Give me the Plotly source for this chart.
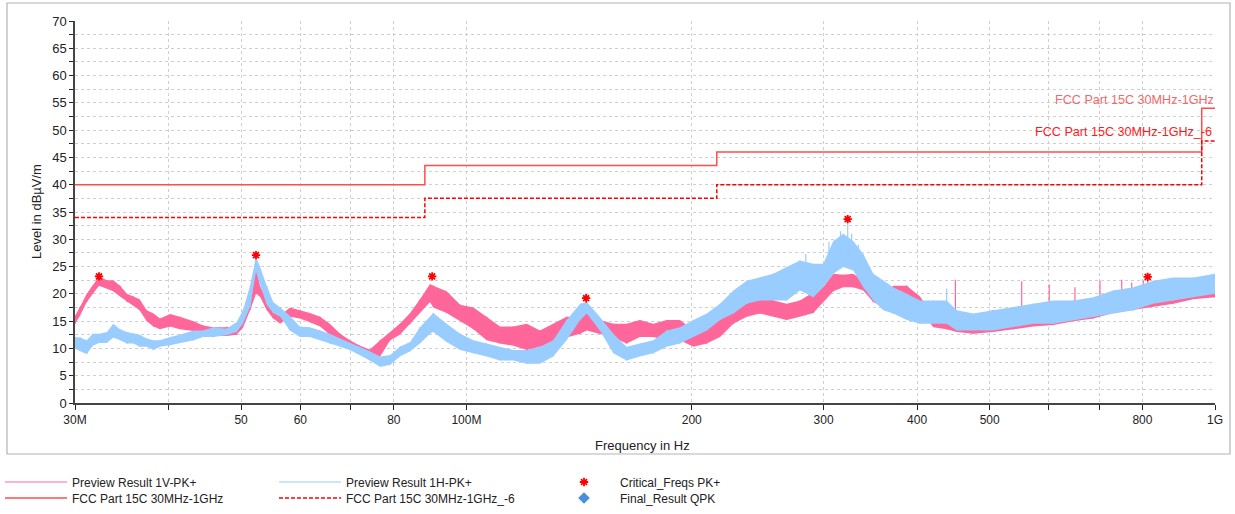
import plotly.graph_objects as go

# ---------------- data (frequencies in MHz, levels in dBµV/m) ----------------
freq_mhz = [30.0, 30.47, 31.1, 31.7, 32.3, 33.1, 33.75, 34.45, 35.2, 35.9, 36.6, 37.4, 38.2, 38.96,
            40.2, 41.4, 43.2, 44.5, 45.9, 47.8, 49.3, 50.3, 51.4, 52.35, 53.0, 54.1, 55.2, 56.4,
            58.1, 59.9, 61.8, 63.75, 65.7, 67.8, 69.9, 72.1, 74.3, 76.7, 79.1, 81.5, 84.1, 86.7,
            89.4, 90.3, 94.1, 98.1, 102.2, 106.4, 110.9, 115.5, 120.4, 125.4, 130.6, 136.1, 141.9,
            144.8, 150.8, 157.1, 163.7, 170.5, 177.7, 185.2, 192.9, 201.0, 209.5, 218.2, 227.3,
            236.9, 246.7, 257.0, 267.8, 279.0, 290.7, 299.7, 309.1, 318.8, 328.7, 338.9, 349.6,
            360.4, 371.7, 387.4, 403.6, 420.5, 438.1, 451.8, 475.5, 505.6, 537.8, 571.8, 608.1,
            646.8, 687.9, 731.4, 777.9, 827.1, 879.6, 935.4, 1000.0]

v_low = [14.5, 16.0, 18.5, 20.0, 21.5, 21.0, 20.5, 19.5, 18.5, 17.8, 17.0, 15.0, 14.0, 13.5,
         14.0, 13.5, 13.2, 12.5, 12.3, 12.3, 12.5, 13.8, 17.0, 20.0, 19.5, 17.0, 15.5, 14.5,
         15.8, 15.5, 14.8, 14.0, 12.5, 11.0, 10.0, 9.0, 8.2, 8.5, 11.5, 12.5, 14.5, 16.5,
         18.5, 17.5, 16.5, 15.0, 13.5, 11.5, 10.9, 10.5, 9.7, 10.3, 10.9, 12.0, 12.7,
         13.3, 12.7, 12.0, 10.9, 12.1, 12.1, 11.5, 11.5, 10.3, 10.9, 12.1, 14.5,
         15.8, 16.4, 15.8, 15.2, 15.8, 16.5, 18.5, 20.5, 21.2, 21.2, 20.6, 18.5,
         17.6, 18.0, 18.5, 17.0, 13.9, 13.5, 13.0, 12.7, 13.0, 13.5, 14.0, 14.3,
         15.0, 15.5, 16.5, 17.0, 17.6, 18.2, 19.0, 19.4]

v_high = [16.0, 17.6, 20.0, 21.5, 23.2, 22.5, 22.5, 21.5, 20.0, 19.5, 19.0, 17.0, 16.4, 15.5,
          16.3, 15.8, 15.0, 14.2, 13.9, 13.9, 14.0, 16.0, 20.6, 24.8, 21.5, 18.8, 17.0, 16.0,
          17.5, 17.0, 16.5, 15.8, 14.5, 12.7, 11.5, 10.5, 9.8, 11.5, 13.0, 14.5, 16.5, 19.0,
          21.8, 21.5, 20.5, 18.0, 17.5, 15.8, 14.0, 14.0, 14.5, 13.3, 14.5, 15.8, 15.8,
          17.0, 15.2, 14.5, 14.5, 15.2, 14.5, 15.2, 15.2, 13.3, 13.9, 15.2, 17.6,
          18.2, 19.4, 18.8, 18.2, 18.8, 20.3, 21.2, 23.7, 23.5, 23.7, 22.4, 20.6,
          20.0, 21.5, 21.5, 19.5, 16.0, 15.5, 15.0, 16.0, 17.0, 17.0, 17.5, 17.6,
          18.0, 18.5, 19.5, 20.0, 21.0, 21.5, 22.4, 23.5]

h_low = [10.0, 9.5, 9.0, 10.5, 11.0, 11.0, 12.0, 11.5, 10.9, 10.9, 10.3, 10.3, 9.7, 10.3,
         10.6, 10.9, 11.5, 12.1, 12.1, 12.4, 13.0, 14.5, 17.6, 24.0, 22.0, 18.0, 16.5, 15.8,
         13.3, 12.1, 12.1, 11.5, 10.9, 10.3, 9.7, 8.8, 7.8, 6.6, 7.0, 8.5, 9.5, 10.9,
         12.7, 13.0, 11.2, 9.7, 9.1, 8.5, 7.8, 7.8, 7.2, 7.2, 8.5, 11.5, 15.2,
         16.4, 13.3, 9.1, 7.8, 8.5, 9.1, 10.3, 10.9, 12.1, 13.3, 15.2, 16.4,
         18.2, 18.8, 18.8, 18.8, 20.6, 19.4, 21.2, 23.7, 24.9, 24.3, 21.2, 18.8,
         17.0, 16.4, 15.2, 14.5, 14.5, 14.5, 13.3, 13.3, 13.3, 13.9, 14.5, 14.5,
         15.2, 15.75, 16.4, 17.0, 18.2, 18.8, 19.4, 20.0]

h_high = [12.1, 12.0, 11.5, 12.7, 12.7, 13.0, 14.5, 13.5, 13.0, 12.7, 12.5, 11.8, 11.5, 11.5,
          12.1, 12.5, 13.3, 13.3, 13.9, 13.6, 14.8, 17.0, 21.5, 26.7, 25.0, 21.5, 18.5, 17.5,
          16.0, 14.0, 13.9, 13.3, 12.7, 11.8, 11.0, 10.3, 9.5, 8.5, 8.8, 10.3, 11.2, 13.9,
          16.0, 16.5, 14.5, 12.7, 11.5, 10.9, 10.3, 9.7, 9.7, 10.3, 11.5, 15.2, 18.2,
          18.5, 15.75, 12.7, 10.3, 10.9, 11.5, 13.3, 13.9, 15.2, 16.4, 18.2, 20.6,
          22.4, 23.0, 23.7, 24.9, 26.1, 25.5, 25.5, 29.7, 31.0, 29.7, 27.3, 23.7,
          22.4, 21.2, 20.0, 18.8, 18.8, 18.8, 17.0, 16.4, 17.0, 17.6, 18.2, 18.8,
          18.8, 19.4, 20.6, 21.2, 22.4, 23.0, 23.0, 23.7]

# isolated narrow spikes above the noise band
v_spike_freq = [450.0, 551.8, 600.6, 650.0, 702.0, 750.5, 774.0, 802.0, 813.0]
v_spike_base = [15.0, 16.0, 16.5, 17.0, 17.5, 18.0, 18.5, 19.0, 19.0]
v_spike_top = [22.6, 22.3, 21.7, 21.2, 22.4, 22.6, 22.1, 22.4, 23.0]

h_spike_freq = [284.0, 305.0, 316.0, 323.1, 327.0, 334.0, 438.1]
h_spike_base = [24.0, 25.0, 26.0, 27.0, 26.0, 25.0, 18.0]
h_spike_top = [27.3, 29.5, 31.5, 33.4, 31.0, 29.0, 21.0]

# FCC Part 15C limits
limit_freq = [30.0, 88.0, 216.0, 960.0, 1000.0]
limit_level = [40.0, 43.5, 46.0, 54.0, 54.0]
limit6_level = [34.0, 37.5, 40.0, 48.0, 48.0]

# critical frequencies
crit_freq = [32.3, 52.35, 90.0, 144.5, 323.1, 813.0]
crit_level = [23.2, 27.1, 23.2, 19.2, 33.7, 23.1]

x_tick_mhz = [30, 40, 50, 60, 70, 80, 100, 200, 300, 400, 500, 600, 700, 800, 1000]
x_tick_text = ["30M", "", "50", "60", "", "80", "100M", "200", "300", "400", "500", "", "", "800", "1G"]

# ---------------- figure ----------------
MHZ = 1e6
PINK = "#ff6699"
BLUE = "#99ccff"
FONT = "Liberation Sans, Arial, sans-serif"


def hz(lst):
    return [f * MHZ for f in lst]


def zigzag(low, high):
    return [low[i] if i % 2 == 0 else high[i] for i in range(len(low))]


def spikes(fr, base, top):
    xs, ys = [], []
    for f, b, t in zip(fr, base, top):
        xs += [f * MHZ, f * MHZ, None]
        ys += [b, t, None]
    return xs, ys


fig = go.Figure()

for low, high, sf, sb, st, col, name, rank in [
    (v_low, v_high, v_spike_freq, v_spike_base, v_spike_top, PINK, "Preview Result 1V-PK+", 1),
    (h_low, h_high, h_spike_freq, h_spike_base, h_spike_top, BLUE, "Preview Result 1H-PK+", 2),
]:
    fig.add_trace(go.Scatter(
        x=hz(freq_mhz) + hz(freq_mhz)[::-1], y=high + low[::-1],
        fill="toself", fillcolor=col, mode="lines", line=dict(width=0, color=col),
        showlegend=False, hoverinfo="skip"))
    sx, sy = spikes(sf, sb, st)
    fig.add_trace(go.Scatter(x=sx, y=sy, mode="lines", line=dict(width=1.2, color=col),
                             showlegend=False, hoverinfo="skip"))
    fig.add_trace(go.Scatter(x=hz(freq_mhz), y=zigzag(low, high), mode="lines",
                             line=dict(width=1, color=col), name=name, legendrank=rank,
                             legend="legend"))

fig.add_trace(go.Scatter(x=hz(crit_freq), y=crit_level, mode="markers", name="Critical_Freqs PK+",
                         marker=dict(symbol="asterisk-open", size=7, color="#ff0000",
                                     line=dict(color="#ff0000", width=1.8)), legendrank=3,
                         legend="legend"))
fig.add_trace(go.Scatter(x=hz(limit_freq), y=limit_level, mode="lines", line_shape="hv",
                         line=dict(color="#ff4d4d", width=1.5), name="FCC Part 15C 30MHz-1GHz",
                         legendrank=4, legend="legend2"))
fig.add_trace(go.Scatter(x=hz(limit_freq), y=limit6_level, mode="lines", line_shape="hv",
                         line=dict(color="#ff0000", width=1.5, dash="4px,2px"),
                         name="FCC Part 15C 30MHz-1GHz_-6", legendrank=5, legend="legend2"))
fig.add_trace(go.Scatter(x=[None], y=[None], mode="markers", name="Final_Result QPK",
                         marker=dict(symbol="diamond", size=9, color="#4a90d9"), legendrank=6,
                         legend="legend2"))

L, R, T, B = 75, 1215, 21, 403
W, H = 1235, 514


def px(xp):
    return (xp - L) / (R - L)


def py(yp):
    return (B - yp) / (B - T)


def legend_row(ycenter):
    return dict(orientation="h", xref="container", yref="container",
                x=0.0, xanchor="left", y=1 - ycenter / H, yanchor="middle",
                entrywidth=197, entrywidthmode="pixels", itemwidth=62,
                font=dict(size=12, color="#222222"), tracegroupgap=0,
                bgcolor="rgba(0,0,0,0)", borderwidth=0)


fig.update_layout(
    width=W, height=H,
    margin=dict(l=L, r=W - R, t=T, b=H - B, autoexpand=False),
    paper_bgcolor="white", plot_bgcolor="white",
    font=dict(family=FONT, size=12, color="#222222"),
    showlegend=True,
    legend=legend_row(482),
    legend2=legend_row(498),
    xaxis=dict(type="log", range=[7.4771213, 9.0], tickvals=hz(x_tick_mhz), ticktext=x_tick_text,
               automargin=False,
               showgrid=True, gridcolor="#cfcfcf", griddash="dot", gridwidth=1,
               showline=True, linecolor="#444444", linewidth=1.5,
               ticks="outside", ticklen=5, tickcolor="#222222",
               tickfont=dict(size=12, color="#222222"), zeroline=False),
    yaxis=dict(range=[0, 70], dtick=5, tick0=0, automargin=False,
               showgrid=True, gridcolor="#cfcfcf", griddash="dot",
               showline=True, linecolor="#444444", linewidth=1.5,
               ticks="outside", ticklen=4, tickcolor="#222222",
               tickfont=dict(size=13, color="#222222"), zeroline=False,
               minor=dict(dtick=2.5, tick0=0, ticks="outside", ticklen=4, tickcolor="#222222",
                          showgrid=True, gridcolor="#cfcfcf", griddash="dot")),
    shapes=[dict(type="rect", xref="paper", yref="paper", x0=px(7), x1=px(1230), y0=py(454), y1=py(3),
                 line=dict(color="#b4b4b4", width=1.2), fillcolor="rgba(0,0,0,0)", layer="below")],
    annotations=[
        dict(text="Level in dBµV/m", xref="paper", yref="paper", x=px(36), y=py(212), textangle=-90,
             showarrow=False, font=dict(size=13, color="#222222"), xanchor="center", yanchor="middle"),
        dict(text="Frequency in Hz", xref="paper", yref="paper", x=px(642), y=py(446),
             showarrow=False, font=dict(size=13, color="#222222"), xanchor="center", yanchor="middle"),
        dict(text="FCC Part 15C 30MHz-1GHz", xref="paper", yref="paper", x=px(1216), y=py(100),
             showarrow=False, font=dict(size=12.6, color="#f06a6a"), xanchor="right", yanchor="middle"),
        dict(text="FCC Part 15C 30MHz-1GHz_-6", xref="paper", yref="paper", x=px(1214), y=py(132),
             showarrow=False, font=dict(size=12.6, color="#ff1a1a"), xanchor="right", yanchor="middle"),
    ],
)

fig.write_html("out.html", config={"displayModeBar": False},
               post_script="document.body.style.margin='0';document.body.style.overflow='hidden';")
